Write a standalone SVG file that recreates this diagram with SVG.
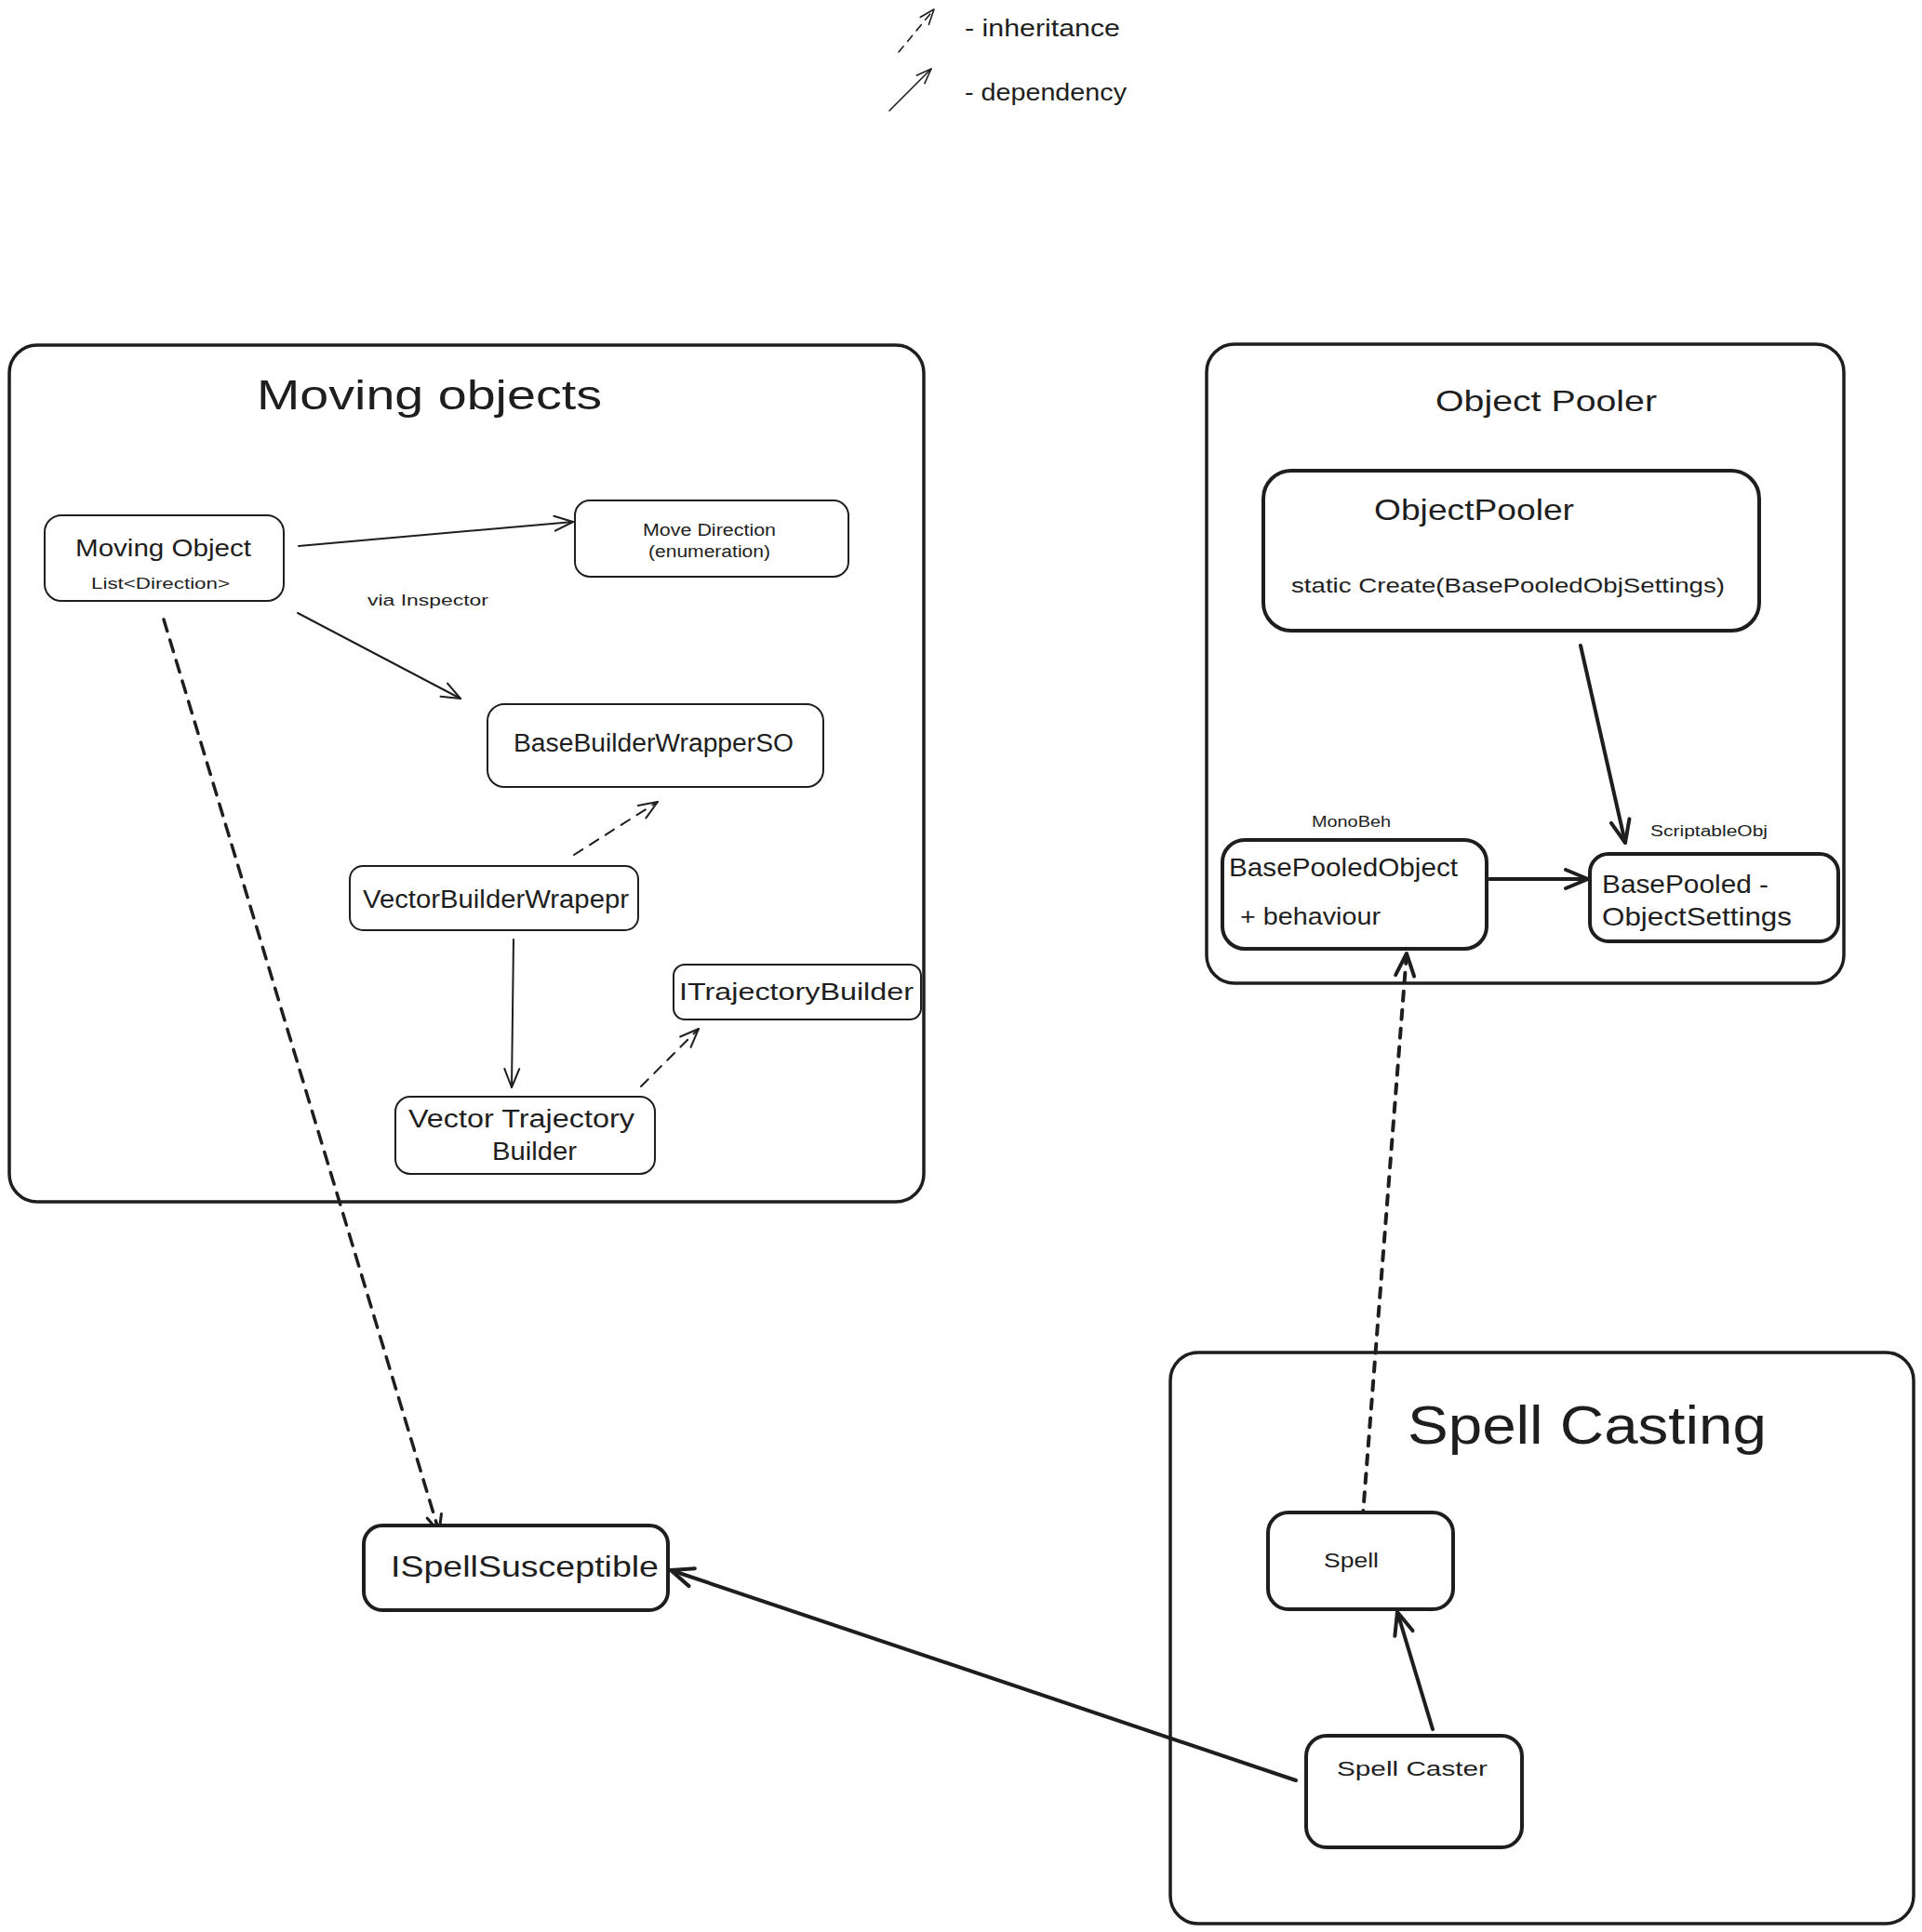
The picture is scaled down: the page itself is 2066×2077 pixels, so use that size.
<svg xmlns="http://www.w3.org/2000/svg" width="2066" height="2077" viewBox="0 0 2066 2077">
<style>
text{font-family:"Liberation Sans","DejaVu Sans",sans-serif;fill:#1e1e1e}
.box{fill:#fff;stroke:#1e1e1e}
.frame{fill:none;stroke:#1e1e1e;stroke-width:3.5}
.thin{stroke-width:2}
.thick{stroke-width:4}
.ln{fill:none;stroke:#1e1e1e;stroke-linecap:round}
.dash2{stroke-dasharray:11 9}
.dash3{stroke-dasharray:13 10}
.dash4{stroke-dasharray:10 10}
</style>
<defs>
<marker id="ahThin" markerUnits="userSpaceOnUse" viewBox="-26 -14 30 28" refX="0" refY="0" markerWidth="30" markerHeight="28" orient="auto" overflow="visible">
<path d="M-20,-8 L0,0 L-20,8" fill="none" stroke="#1e1e1e" stroke-width="2" stroke-linecap="round" stroke-linejoin="round"/>
</marker>
<marker id="ahMid" markerUnits="userSpaceOnUse" viewBox="-26 -14 30 28" refX="0" refY="0" markerWidth="30" markerHeight="28" orient="auto" overflow="visible">
<path d="M-18,-8 L0,0 L-18,8" fill="none" stroke="#1e1e1e" stroke-width="3" stroke-linecap="round" stroke-linejoin="round"/>
</marker>
<marker id="ahThick" markerUnits="userSpaceOnUse" viewBox="-30 -16 34 32" refX="0" refY="0" markerWidth="34" markerHeight="32" orient="auto" overflow="visible">
<path d="M-24,-10 L0,0 L-24,10" fill="none" stroke="#1e1e1e" stroke-width="4" stroke-linecap="round" stroke-linejoin="round"/>
</marker>
<marker id="ahLegend" markerUnits="userSpaceOnUse" viewBox="-20 -10 24 20" refX="0" refY="0" markerWidth="24" markerHeight="20" orient="auto" overflow="visible">
<path d="M-16,-6 L0,0 L-16,6" fill="none" stroke="#1e1e1e" stroke-width="1.6" stroke-linecap="round" stroke-linejoin="round"/>
</marker>
</defs>
<rect width="2066" height="2077" fill="#fff"/>

<g id="legend">
<line class="ln" x1="966" y1="56" x2="1004" y2="10" stroke-width="1.6" stroke-dasharray="8 7" marker-end="url(#ahLegend)"/>
<line class="ln" x1="956" y1="119" x2="1001" y2="74" stroke-width="1.6" marker-end="url(#ahLegend)"/>
<text x="1037" y="39" font-size="25" textLength="167" lengthAdjust="spacingAndGlyphs">- inheritance</text>
<text x="1037" y="108" font-size="25" textLength="174" lengthAdjust="spacingAndGlyphs">- dependency</text>
</g>

<g id="frame-moving-objects">
<rect class="frame" x="10" y="371" width="983" height="921" rx="30"/>
<text x="276" y="440" font-size="44" textLength="371" lengthAdjust="spacingAndGlyphs">Moving objects</text>
</g>
<g id="frame-object-pooler">
<rect class="frame" x="1297" y="370" width="685" height="687" rx="30"/>
<text x="1543" y="442" font-size="32" textLength="238" lengthAdjust="spacingAndGlyphs">Object Pooler</text>
</g>
<g id="frame-spell-casting">
<rect class="frame" x="1258" y="1454" width="799" height="614" rx="30"/>
<text x="1513" y="1552" font-size="58" textLength="386" lengthAdjust="spacingAndGlyphs">Spell Casting</text>
</g>

<g id="connectors">
<line class="ln thin" x1="321" y1="587" x2="616" y2="561" marker-end="url(#ahThin)"/>
<line class="ln thin" x1="320" y1="659" x2="495" y2="751" marker-end="url(#ahThin)"/>
<line class="ln thin dash2" x1="617" y1="919" x2="707" y2="862" marker-end="url(#ahThin)"/>
<line class="ln thin" x1="552" y1="1010" x2="550" y2="1169" marker-end="url(#ahThin)"/>
<line class="ln thin dash2" x1="689" y1="1168" x2="751" y2="1106" marker-end="url(#ahThin)"/>
<line class="ln dash3" stroke-width="3.5" x1="176" y1="666" x2="472" y2="1647" marker-end="url(#ahMid)"/>
<line class="ln thick" x1="1699" y1="694" x2="1747" y2="906" marker-end="url(#ahThick)"/>
<line class="ln thick" x1="1601" y1="945" x2="1707" y2="945" marker-end="url(#ahThick)"/>
<line class="ln thick dash4" x1="1463" y1="1654" x2="1512" y2="1025" marker-end="url(#ahThick)"/>
<line class="ln thick" x1="1540" y1="1859" x2="1502" y2="1733" marker-end="url(#ahThick)"/>
<line class="ln thick" x1="1393" y1="1914" x2="721" y2="1688" marker-end="url(#ahThick)"/>
</g>

<g id="moving-object">
<rect class="box thin" x="48" y="554" width="257" height="92" rx="18"/>
<text x="81" y="598" font-size="26" textLength="189" lengthAdjust="spacingAndGlyphs">Moving Object</text>
<text x="98" y="633" font-size="16" textLength="149" lengthAdjust="spacingAndGlyphs">List&lt;Direction&gt;</text>
</g>
<g id="move-direction">
<rect class="box thin" x="618" y="538" width="294" height="82" rx="16"/>
<text x="691" y="576" font-size="18" textLength="143" lengthAdjust="spacingAndGlyphs">Move Direction</text>
<text x="697" y="599" font-size="18" textLength="131" lengthAdjust="spacingAndGlyphs">(enumeration)</text>
</g>
<g id="via-inspector-label">
<text x="395" y="651" font-size="16" textLength="130" lengthAdjust="spacingAndGlyphs">via Inspector</text>
</g>
<g id="base-builder-wrapper-so">
<rect class="box thin" x="524" y="757" width="361" height="89" rx="18"/>
<text x="552" y="808" font-size="27" textLength="301" lengthAdjust="spacingAndGlyphs">BaseBuilderWrapperSO</text>
</g>
<g id="vector-builder-wrapepr">
<rect class="box thin" x="376" y="931" width="310" height="69" rx="14"/>
<text x="390" y="976" font-size="27" textLength="286" lengthAdjust="spacingAndGlyphs">VectorBuilderWrapepr</text>
</g>
<g id="itrajectory-builder">
<rect class="box thin" x="724" y="1037" width="266" height="59" rx="12"/>
<text x="730" y="1075" font-size="26" textLength="252" lengthAdjust="spacingAndGlyphs">ITrajectoryBuilder</text>
</g>
<g id="vector-trajectory-builder">
<rect class="box thin" x="425" y="1179" width="279" height="83" rx="16"/>
<text x="439" y="1212" font-size="27" textLength="243" lengthAdjust="spacingAndGlyphs">Vector Trajectory</text>
<text x="529" y="1247" font-size="27" textLength="91" lengthAdjust="spacingAndGlyphs">Builder</text>
</g>

<g id="object-pooler">
<rect class="box thick" x="1358" y="506" width="533" height="172" rx="30"/>
<text x="1477" y="559" font-size="32" textLength="215" lengthAdjust="spacingAndGlyphs">ObjectPooler</text>
<text x="1388" y="637" font-size="22" textLength="466" lengthAdjust="spacingAndGlyphs">static Create(BasePooledObjSettings)</text>
</g>
<g id="base-pooled-object">
<text x="1410" y="889" font-size="16" textLength="85" lengthAdjust="spacingAndGlyphs">MonoBeh</text>
<rect class="box thick" x="1314" y="903" width="284" height="117" rx="24"/>
<text x="1321" y="942" font-size="28" textLength="246" lengthAdjust="spacingAndGlyphs">BasePooledObject</text>
<text x="1333" y="994" font-size="26" textLength="151" lengthAdjust="spacingAndGlyphs">+ behaviour</text>
</g>
<g id="base-pooled-object-settings">
<text x="1774" y="899" font-size="16" textLength="126" lengthAdjust="spacingAndGlyphs">ScriptableObj</text>
<rect class="box thick" x="1709" y="918" width="267" height="94" rx="20"/>
<text x="1722" y="960" font-size="28" textLength="179" lengthAdjust="spacingAndGlyphs">BasePooled -</text>
<text x="1722" y="995" font-size="28" textLength="204" lengthAdjust="spacingAndGlyphs">ObjectSettings</text>
</g>

<g id="spell">
<rect class="box thick" x="1363" y="1626" width="199" height="104" rx="22"/>
<text x="1423" y="1685" font-size="22" textLength="59" lengthAdjust="spacingAndGlyphs">Spell</text>
</g>
<g id="spell-caster">
<rect class="box thick" x="1404" y="1866" width="232" height="120" rx="22"/>
<text x="1437" y="1909" font-size="22" textLength="162" lengthAdjust="spacingAndGlyphs">Spell Caster</text>
</g>
<g id="ispell-susceptible">
<rect class="box thick" x="391" y="1640" width="327" height="91" rx="20"/>
<text x="420" y="1695" font-size="32" textLength="288" lengthAdjust="spacingAndGlyphs">ISpellSusceptible</text>
</g>
</svg>
